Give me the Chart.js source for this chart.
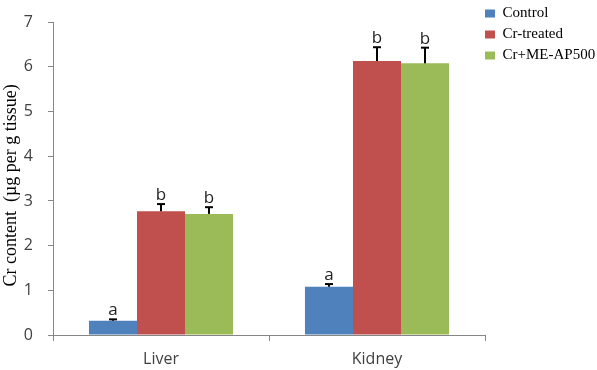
<!DOCTYPE html>
<html>
<head>
<meta charset="utf-8">
<script src="https://cdn.jsdelivr.net/npm/chart.js@4/dist/chart.umd.min.js"></script>
<style>
html,body{margin:0;padding:0;background:#fff;}
#wrap{width:597px;height:370px;position:relative;}
</style>
</head>
<body>
<div id="wrap"><canvas id="c" width="597" height="370"></canvas></div>
<script>
const categories = ['Liver', 'Kidney'];
const seriesNames = ['Control', 'Cr-treated', 'Cr+ME-AP500'];
const controlValues = [0.32, 1.08];
const controlErrors = [0.03, 0.06];
const treatedValues = [2.77, 6.13];
const treatedErrors = [0.16, 0.31];
const meValues = [2.71, 6.08];
const meErrors = [0.15, 0.35];
const controlLetters = ['a', 'a'];
const treatedLetters = ['b', 'b'];
const meLetters = ['b', 'b'];
const yTicks = [0, 1, 2, 3, 4, 5, 6, 7];

const colors = ['#4F81BD', '#C0504D', '#9BBB59'];
const values = [controlValues, treatedValues, meValues];
const errors = [controlErrors, treatedErrors, meErrors];
const letters = [controlLetters, treatedLetters, meLetters];

const errorPlugin = {
  id: 'errorBars',
  afterDatasetsDraw(chart) {
    const ctx = chart.ctx;
    const y = chart.scales.y;
    chart.data.datasets.forEach((ds, di) => {
      const meta = chart.getDatasetMeta(di);
      meta.data.forEach((bar, i) => {
        const v = ds.data[i];
        const e = ds.errors[i];
        const top = y.getPixelForValue(v + e);
        const base = y.getPixelForValue(v);
        ctx.save();
        ctx.strokeStyle = '#000';
        ctx.lineWidth = 2;
        ctx.beginPath();
        ctx.moveTo(bar.x, base);
        ctx.lineTo(bar.x, top);
        ctx.stroke();
        ctx.beginPath();
        ctx.moveTo(bar.x - 4, top);
        ctx.lineTo(bar.x + 4, top);
        ctx.stroke();
        ctx.fillStyle = '#222';
        ctx.font = '17px "Open Sans", "Liberation Sans", Arial, sans-serif';
        ctx.textAlign = 'center';
        ctx.textBaseline = 'alphabetic';
        ctx.fillText(ds.letters[i], bar.x, top - 4);
        ctx.restore();
      });
    });
  }
};

const legendShift = {
  id: 'legendShift',
  afterLayout(chart) {
    const lg = chart.legend;
    if (!lg) return;
    lg.left = 479;
    lg.right = 597;
    lg.width = lg.right - lg.left;
  }
};

new Chart(document.getElementById('c'), {
  type: 'bar',
  data: {
    labels: categories,
    datasets: seriesNames.map((name, k) => ({
      label: name,
      data: values[k],
      errors: errors[k],
      letters: letters[k],
      backgroundColor: colors[k],
      borderWidth: 0,
      barPercentage: 1.0,
      categoryPercentage: 0.667
    }))
  },
  options: {
    responsive: false,
    animation: false,
    devicePixelRatio: 1,
    layout: { padding: { top: 0, right: 0, left: 0, bottom: 0 } },
    plugins: {
      tooltip: { enabled: false },
      legend: {
        position: 'right',
        align: 'start',
        maxWidth: 112,
        labels: {
          boxWidth: 10,
          boxHeight: 8,
          padding: 6,
          color: '#000',
          font: { family: '"Liberation Serif", "Times New Roman", serif', size: 15 }
        }
      }
    },
    scales: {
      x: {
        offset: true,
        afterFit(s) { s.height = 35; },
        grid: { display: true, drawOnChartArea: false, drawTicks: true, tickLength: 6, color: '#868686', offset: true },
        border: { display: true, color: '#868686', width: 1 },
        ticks: { color: '#404040', padding: 9, font: { family: '"Open Sans", "Liberation Sans", sans-serif', size: 16 } }
      },
      y: {
        min: 0,
        max: 7,
        afterFit(s) { s.width = 53; },
        afterBuildTicks(s) { s.ticks = yTicks.map(v => ({ value: v })); },
        grid: { display: true, drawOnChartArea: false, drawTicks: true, tickLength: 5, color: '#868686' },
        border: { display: true, color: '#868686', width: 1 },
        ticks: { color: '#404040', padding: 15, font: { family: '"Open Sans", "Liberation Sans", sans-serif', size: 16, lineHeight: 0.9 } },
        title: {
          display: true,
          text: 'Cr content  (µg per g tissue)   ',
          color: '#000',
          padding: 0,
          font: { family: '"Liberation Serif", "Times New Roman", serif', size: 18 }
        }
      }
    }
  },
  plugins: [errorPlugin, legendShift]
});
</script>
</body>
</html>
